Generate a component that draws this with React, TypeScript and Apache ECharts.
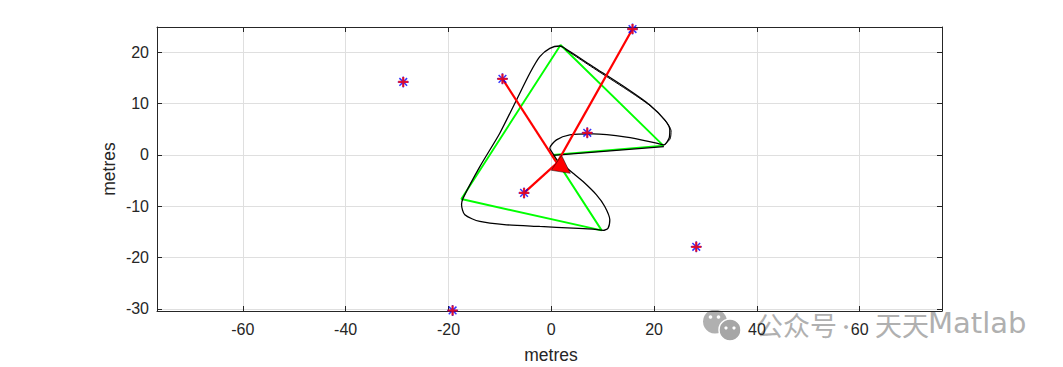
import React, { useEffect, useRef } from "react";
import * as echarts from "echarts";

// ---- axes ----
const xTicks = [-60, -40, -20, 0, 20, 40, 60];
const yTicks = [-30, -20, -10, 0, 10, 20];
const xRange = [-76.7, 76.0];
const yRange = [-30.4, 24.9];

// ---- landmarks ----
const landmarkX = [-28.8, -9.5, 15.8, 7.0, -5.3, 28.2, -19.2];
const landmarkY = [14.2, 14.8, 24.5, 4.3, -7.4, -17.9, -30.3];
const observedLandmarks = [1, 2, 4];

// ---- vehicle ----
const vehiclePos = [1.1, -1.6];
const vehicleTriX = [0.0, 3.7, 2.0];
const vehicleTriY = [-3.0, -3.6, -0.1];

// ---- waypoints (green) ----
const waypointX = [0.3, 9.8, -17.5, 1.8, 21.8, 0.3];
const waypointY = [0.0, -14.7, -8.6, 21.4, 1.8, 0.0];

// ---- true trajectory (black) ----
const loopX = [1.07, 4.24, 6.18, 8.79, 10.4, 11.38, 11.05, 10.07, 8.13, 4.24, -2.24, -8.71, -13.9, -16.82, -17.46, -17.15, -13.9, -10.02, -6.77, -4.18, -2.24, -0.29, 1.65, 2.63, 8.13, 14.62, 19.16, 22.07, 23.05, 22.91, 21.88, 20.46, 14.62, 8.13, 3.6, 1.01, -0.29, 0.35, 1.07];
const loopY = [-0.97, -3.56, -5.19, -7.78, -10.05, -12.64, -14.26, -14.72, -14.45, -14.26, -13.94, -13.61, -12.97, -11.67, -9.72, -8.42, -2.28, 4.22, 10.7, 15.89, 19.12, 20.75, 21.2, 20.75, 17.17, 12.97, 9.72, 6.81, 4.86, 3.25, 1.94, 2.28, 3.44, 4.08, 3.89, 2.92, 1.3, 0.19, -0.97];
const edgeX = [2.63, 8.2, 14.7, 19.3, 22.2, 23.3, 23.1, 21.9];
const edgeY = [20.6, 16.9, 12.7, 9.5, 6.6, 4.7, 3.1, 1.9];
const returnX = [21.9, 0.35];
const returnY = [1.6, -0.1];

const FONT = "'Liberation Sans', Arial, Helvetica, sans-serif";
const AXIS_COLOR = "#262626";
const WM = "#b0b0b0";

const asterisk = "path://M0,5L10,5M5,0L5,10M1.5,1.5L8.5,8.5M8.5,1.5L1.5,8.5";
const plus = "path://M0,5L10,5M5,0L5,10";

function axisBase(ticks: number[], min: number, max: number, position: string, showLabel: boolean, margin: number) {
  return {
    type: "value",
    position,
    min,
    max,
    axisLine: { show: true, onZero: false, lineStyle: { color: AXIS_COLOR, width: 1 } },
    axisTick: { show: true, inside: true, length: 5, customValues: ticks, lineStyle: { color: AXIS_COLOR, width: 1 } },
    axisLabel: {
      show: showLabel,
      customValues: ticks,
      margin,
      fontSize: 16,
      color: AXIS_COLOR,
      fontFamily: FONT,
    },
    splitLine: { show: showLabel, lineStyle: { color: "#dfdfdf", width: 1 } },
  };
}

export default function App() {
  const ref = useRef<HTMLDivElement>(null);
  useEffect(() => {
    if (!ref.current) return;
    const chart = echarts.init(ref.current, undefined, { renderer: "svg" });
    const pairs = (xs: number[], ys: number[]) => xs.map((x, i) => [x, ys[i]]);
    const landmarks = pairs(landmarkX, landmarkY);
    const blackLine = { color: "#000000", width: 1.3 };
    chart.setOption({
      animation: false,
      backgroundColor: "#ffffff",
      grid: { left: 157, top: 27, width: 785, height: 284, containLabel: false },
      xAxis: [
        axisBase(xTicks, xRange[0], xRange[1], "bottom", true, 10),
        axisBase(xTicks, xRange[0], xRange[1], "top", false, 8),
      ],
      yAxis: [
        axisBase(yTicks, yRange[0], yRange[1], "left", true, 8),
        axisBase(yTicks, yRange[0], yRange[1], "right", false, 8),
      ],
      graphic: [
        {
          type: "text",
          x: 551,
          y: 355,
          style: { text: "metres", fontSize: 17.5, fontFamily: FONT, fill: AXIS_COLOR, align: "center", verticalAlign: "middle" },
        },
        {
          type: "text",
          x: 109,
          y: 169,
          rotation: Math.PI / 2,
          style: { text: "metres", fontSize: 17.5, fontFamily: FONT, fill: AXIS_COLOR, align: "center", verticalAlign: "middle" },
        },
        {
          type: "group",
          z: -10,
          children: [
            { type: "circle", shape: { cx: 715, cy: 321.5, r: 12 }, style: { fill: WM }, z: -10 },
            { type: "circle", shape: { cx: 730, cy: 330, r: 11 }, style: { fill: "#a6a6a6", stroke: "#ffffff", lineWidth: 1.5 }, z: -9 },
            { type: "circle", shape: { cx: 710.5, cy: 317, r: 1.8 }, style: { fill: "#ffffff" }, z: -8 },
            { type: "circle", shape: { cx: 718.5, cy: 317, r: 1.8 }, style: { fill: "#ffffff" }, z: -8 },
            { type: "circle", shape: { cx: 726, cy: 328, r: 1.6 }, style: { fill: "#ffffff" }, z: -8 },
            { type: "circle", shape: { cx: 734, cy: 328, r: 1.6 }, style: { fill: "#ffffff" }, z: -8 },
            {
              type: "text", x: 756, y: 324, z: -10,
              style: { text: "公众号", fontSize: 27, fontFamily: "'Noto Sans CJK SC', sans-serif", fill: WM, align: "left", verticalAlign: "middle" },
            },
            {
              type: "text", x: 846, y: 326, z: -10,
              style: { text: "·", fontSize: 18, fontFamily: "'Noto Sans CJK SC', sans-serif", fill: WM, align: "center", verticalAlign: "middle" },
            },
            {
              type: "text", x: 875, y: 324, z: -10,
              style: { text: "天天", fontSize: 27, fontFamily: "'Noto Sans CJK SC', sans-serif", fill: WM, align: "left", verticalAlign: "middle" },
            },
            {
              type: "text", x: 928, y: 323, z: -10,
              style: { text: "Matlab", fontSize: 29, fontFamily: "'DejaVu Sans', sans-serif", fill: WM, align: "left", verticalAlign: "middle" },
            },
          ],
        },
      ],
      series: [
        {
          type: "line",
          data: pairs(waypointX, waypointY),
          symbol: "none",
          lineStyle: { color: "#00ff00", width: 1.9 },
          z: 2,
          silent: true,
        },
        {
          type: "line",
          data: pairs(loopX, loopY),
          symbol: "none",
          smooth: 0.25,
          lineStyle: blackLine,
          z: 3,
          silent: true,
        },
        {
          type: "line",
          data: pairs(edgeX, edgeY),
          symbol: "none",
          smooth: 0.25,
          lineStyle: { color: "#000000", width: 1 },
          z: 3,
          silent: true,
        },
        {
          type: "line",
          data: pairs(returnX, returnY),
          symbol: "none",
          lineStyle: blackLine,
          z: 3,
          silent: true,
        },
        {
          type: "lines",
          coordinateSystem: "cartesian2d",
          data: observedLandmarks.map((i) => ({ coords: [vehiclePos, landmarks[i]] })),
          lineStyle: { color: "#ff0000", width: 2.2, opacity: 1, curveness: 0 },
          z: 4,
          silent: true,
        },
        {
          type: "custom",
          data: [vehiclePos],
          renderItem: (_params: any, api: any) => {
            const pts = vehicleTriX.map((x, i) => api.coord([x, vehicleTriY[i]]));
            return {
              type: "polygon",
              shape: { points: pts },
              style: { fill: "#ff0000", stroke: "#000000", lineWidth: 0.5 },
            };
          },
          z: 5,
          silent: true,
        },
        {
          type: "scatter",
          data: landmarks,
          symbol: asterisk,
          symbolSize: 11,
          itemStyle: { color: "rgba(0,0,0,0)", borderColor: "#0000ff", borderWidth: 1.5 },
          z: 6,
          silent: true,
          clip: false,
        },
        {
          type: "scatter",
          data: landmarks,
          symbol: plus,
          symbolSize: 10,
          itemStyle: { color: "rgba(0,0,0,0)", borderColor: "#ff0000", borderWidth: 2.2 },
          z: 7,
          silent: true,
          clip: false,
        },
      ],
    });
    return () => chart.dispose();
  }, []);
  return <div ref={ref} style={{ position: "absolute", left: 0, top: 0, width: 1063, height: 367 }} />;
}
